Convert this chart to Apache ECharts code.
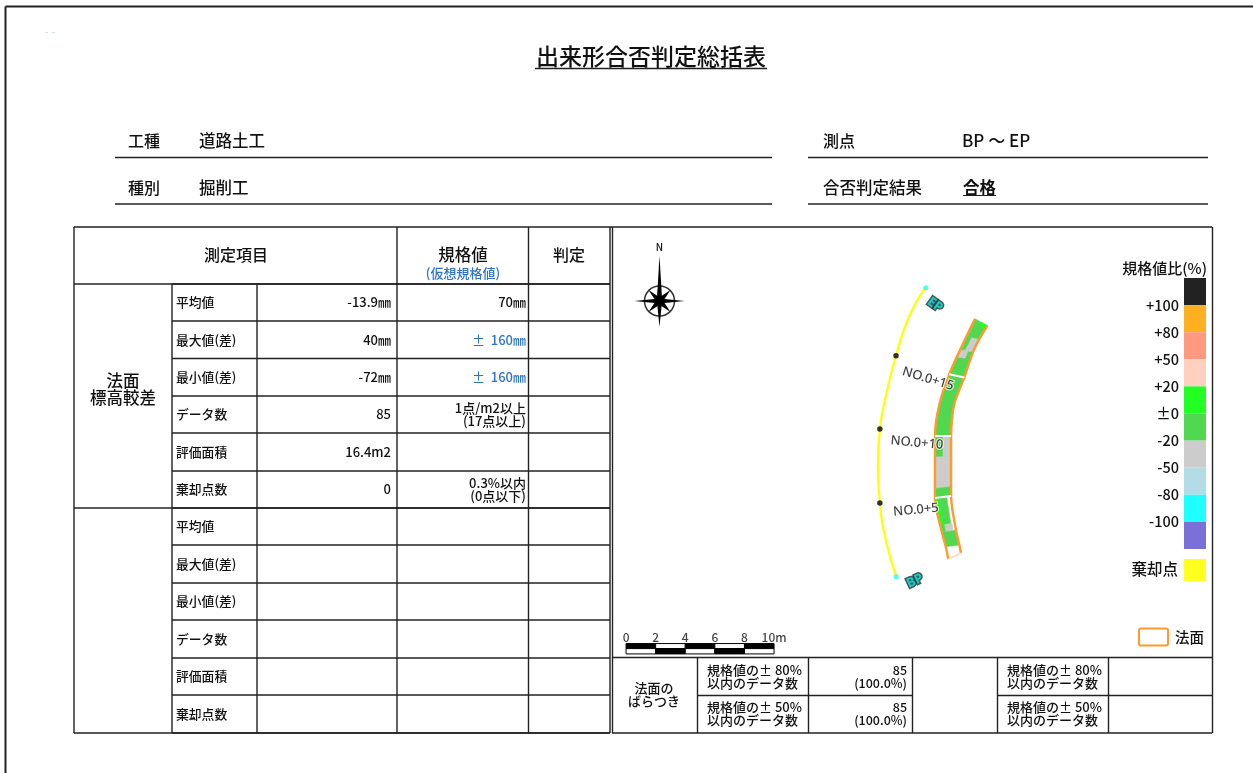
<!DOCTYPE html>
<html>
<head>
<meta charset="utf-8">
<title>出来形合否判定総括表</title>
<script src="https://cdn.jsdelivr.net/npm/echarts@6/dist/echarts.min.js"></script>
<style>
  html, body { margin: 0; padding: 0; background: #fff; }
  #chart { width: 1253px; height: 773px; }
</style>
</head>
<body>
<div id="chart"></div>
<script>
  // 表の中身
  const itemNames = ['平均値', '最大値(差)', '最小値(差)', 'データ数', '評価面積', '棄却点数']
  const measured = ['-13.9㎜', '40㎜', '-72㎜', '85', '16.4m2', '0']
  const specs = ['70㎜', '±  160㎜', '±  160㎜', '1点/m2以上\n(17点以上)', '', '0.3%以内\n(0点以下)']
  const specIsBlue = [false, true, true, false, false, false]
  const spreadNames = ['規格値の± 80%\n以内のデータ数', '規格値の± 50%\n以内のデータ数']
  const spreadValues = ['85\n(100.0%)', '85\n(100.0%)']

  // 凡例
  const bandColors = ['#222222', '#ffb020', '#ff9a80', '#ffd0c0', '#22ff22', '#50d850', '#cccccc', '#b4dce6', '#1fffff', '#7b70d8']
  const bandLabels = ['', '+100', '+80', '+50', '+20', '±0', '-20', '-50', '-80', '-100', '']

  // 平面図 (単位 m, 左下原点)
  const alignment = [[21.2, 24.9], [20.1, 23.0], [19.19, 20.3], [18.45, 17.3], [18.1, 15.35], [17.97, 12.9], [18.1, 10.35], [18.5, 7.85], [19.2, 5.35]]
  const stationDots = [[19.19, 20.3], [18.1, 15.35], [18.1, 10.35]]
  const endDots = [[21.2, 24.9], [19.2, 5.35]]
  const leftEdge = [[22.72, 6.56], [22.55, 7.39], [22.28, 8.4], [21.82, 10.68], [21.82, 14.87], [22.11, 16.97], [22.79, 19.05], [23.58, 20.82], [24.53, 22.79]]
  const rightEdge = [[23.58, 6.96], [23.47, 7.5], [23.24, 8.52], [22.91, 10.82], [22.91, 14.87], [23.11, 16.97], [23.8, 18.82], [24.48, 20.76], [25.36, 22.33]]
  // [断面from, 断面to, 幅from, 幅to, 色番号]
  const stripCells = [
    [1, 2, 0, 1, 5],
    [2, 3, 0, 0.72, 5],
    [2.2, 3, 0, 0.2, 4],
    [2, 2.2, 0.3, 0.8, 6],
    [3, 4, 0, 1, 5],
    [3.16, 3.66, 0, 1, 6],
    [3.66, 4, 0.5, 1, 6],
    [4, 5, 0, 1, 5],
    [5, 6, 0, 1, 5],
    [6, 7, 0, 1, 5],
    [7, 8, 0, 1, 5],
    [6.65, 6.93, 0.08, 0.6, 6],
    [6.9, 7, 0.4, 0.95, 6],
    [7, 7.4, 0.4, 0.95, 6],
    [7.85, 8, 0.5, 1, 4]
  ]
  const crossSections = [3, 4, 6]
  const stationLabels = [
    {name: 'NO.0+15', value: [21.35, 18.73], rotate: -17},
    {name: 'NO.0+10', value: [20.6, 14.4], rotate: -5},
    {name: 'NO.0+5', value: [20.54, 9.87], rotate: 5}
  ]
  const endLabels = [
    {name: 'EP', value: [21.82, 23.73], rotate: -35},
    {name: 'BP', value: [20.47, 5.07], rotate: 25}
  ]
  const scaleStart = 0.95
  const scaleSteps = [0, 2, 4, 6, 8]
  const scaleTicks = ['0', '2', '4', '6', '8', '10m']

  const FONT = '"Noto Sans CJK JP", sans-serif'
  const INK = '#111'
  const BLUE = '#2f74c8'
  const gfx = []

  function line (x1, y1, x2, y2, w) {
    gfx.push({type: 'line', silent: true, shape: {x1, y1, x2, y2}, style: {stroke: '#222', lineWidth: w || 1.4}})
  }
  function text (str, x, y, size, align, color, weight) {
    gfx.push({
      type: 'text',
      silent: true,
      style: {
        text: str,
        x: x,
        y: y,
        font: (weight || '500') + ' ' + size + 'px ' + FONT,
        fill: color || INK,
        align: align || 'left',
        verticalAlign: 'middle',
        lineHeight: Math.round(size * 1.02)
      }
    })
  }

  // 外枠
  line(5.5, 6.5, 1253, 6.5, 2)
  line(5.5, 6.5, 5.5, 773, 2)
  gfx.push({type: 'line', silent: true, shape: {x1: 45, y1: 32.5, x2: 55, y2: 32.5}, style: {stroke: '#cfe3f2', lineWidth: 1, lineDash: [3, 4]}})

  // 見出し
  text('出来形合否判定総括表', 651, 56, 23, 'center')
  line(535, 68.5, 767, 68.5, 1.5)
  text('工種', 128, 141, 16)
  text('道路土工', 199, 141, 16.5)
  line(115, 157.5, 772, 157.5)
  text('種別', 128, 188, 16)
  text('掘削工', 199, 188, 16.5)
  line(115, 204, 772, 204)
  text('測点', 823, 141, 16)
  text('BP ～ EP', 962, 141, 17)
  line(808, 157.5, 1208, 157.5)
  text('合否判定結果', 823, 188, 16.5)
  text('合格', 963, 188, 16.5, 'left', INK, 'bold')
  line(963, 195.5, 996, 195.5, 1.2)
  line(808, 204, 1208, 204)

  // 左の表
  const rowY = [284, 321, 358.5, 396, 433, 471, 508, 545, 583, 620, 658, 695, 733]
  line(74, 227, 1212, 227)
  line(74, 284, 610, 284)
  line(74, 508, 610, 508)
  line(74, 733, 610, 733)
  rowY.forEach(function (y) { line(172, y, 610, y) })
  line(74, 227, 74, 733)
  line(172, 284, 172, 733)
  line(257, 284, 257, 733)
  line(397, 227, 397, 733)
  line(528.5, 227, 528.5, 733)
  line(610, 227, 610, 733)
  line(612.5, 227, 612.5, 733)
  line(1212.5, 227, 1212.5, 733)

  text('測定項目', 236, 255, 16, 'center')
  text('規格値', 463, 255, 16.5, 'center')
  text('(仮想規格値)', 463, 273, 13, 'center', BLUE)
  text('判定', 569, 255, 16, 'center')
  text('法面\n標高較差', 123, 389, 16.5, 'center')

  for (let i = 0; i < 12; i++) {
    const y = (rowY[i] + rowY[i + 1]) / 2
    text(itemNames[i % 6], 176, y, 12.8)
    if (i < 6) {
      text(measured[i], 391, y, 13, 'right')
      if (specs[i]) text(specs[i], 526, y, 13, 'right', specIsBlue[i] ? BLUE : INK)
    }
  }

  // 下のばらつき表
  line(612, 657.5, 1212, 657.5)
  line(697.5, 695.5, 912, 695.5)
  line(997.5, 695.5, 1212, 695.5)
  line(612, 733, 1212, 733)
  ;[697.5, 808.5, 912.5, 997.5, 1108.5].forEach(function (x) { line(x, 657.5, x, 733) })
  text('法面の\nばらつき', 654, 695, 13, 'center')
  spreadNames.forEach(function (s, i) {
    const y = i === 0 ? 677 : 714
    text(s, 707, y, 13, 'left')
    text(spreadValues[i], 907, y, 12.5, 'right')
    text(s, 1007, y, 13, 'left')
  })

  // 方位記号
  const cx = 659.5
  const cy = 301
  gfx.push({type: 'circle', silent: true, shape: {cx, cy, r: 15}, style: {fill: 'none', stroke: '#333', lineWidth: 1.5}})
  gfx.push({type: 'circle', silent: true, shape: {cx, cy, r: 4.5}, style: {fill: '#000'}})
  function spike (dx, dy, w) {
    gfx.push({
      type: 'polygon',
      silent: true,
      shape: {points: [[cx + dx, cy + dy], [cx - dy * w, cy + dx * w], [cx + dy * w, cy - dx * w]]},
      style: {fill: '#000'}
    })
  }
  spike(0, -45, 0.06)
  spike(0, 26, 0.1)
  spike(-25, 0, 0.1)
  spike(25, 0, 0.1)
  spike(-11, -11, 0.2)
  spike(11, -11, 0.2)
  spike(-11, 11, 0.2)
  spike(11, 11, 0.2)
  text('N', cx, 247, 10, 'center')

  // 凡例の文字と見本
  text('規格値比(%)', 1207, 268, 15, 'right')
  text('棄却点', 1178, 569, 15.5, 'right')
  gfx.push({type: 'rect', silent: true, shape: {x: 1184, y: 559, width: 22, height: 22}, style: {fill: '#ffff20'}})
  gfx.push({type: 'rect', silent: true, shape: {x: 1139, y: 628.5, width: 29, height: 17, r: 2}, style: {fill: '#fff', stroke: '#ff9a2e', lineWidth: 2}})
  text('法面', 1175, 637, 14.5)

  function cellCorner (api, s, t) {
    const a = Math.min(Math.floor(s), leftEdge.length - 2)
    const f = s - a
    const lx = leftEdge[a][0] + (leftEdge[a + 1][0] - leftEdge[a][0]) * f
    const ly = leftEdge[a][1] + (leftEdge[a + 1][1] - leftEdge[a][1]) * f
    const rx = rightEdge[a][0] + (rightEdge[a + 1][0] - rightEdge[a][0]) * f
    const ry = rightEdge[a][1] + (rightEdge[a + 1][1] - rightEdge[a][1]) * f
    return api.coord([lx + (rx - lx) * t, ly + (ry - ly) * t])
  }

  const series = [
    {
      type: 'custom',
      silent: true,
      coordinateSystem: 'cartesian2d',
      xAxisIndex: 0,
      yAxisIndex: 0,
      data: stripCells,
      renderItem: function (params, api) {
        const s0 = api.value(0)
        const s1 = api.value(1)
        const t0 = api.value(2)
        const t1 = api.value(3)
        return {
          type: 'polygon',
          shape: {points: [cellCorner(api, s0, t0), cellCorner(api, s0, t1), cellCorner(api, s1, t1), cellCorner(api, s1, t0)]},
          style: {fill: bandColors[api.value(4)], stroke: bandColors[api.value(4)], lineWidth: 0.5}
        }
      }
    },
    {type: 'line', silent: true, xAxisIndex: 0, yAxisIndex: 0, data: leftEdge, smooth: 0.3, showSymbol: false, lineStyle: {color: '#ff9a2e', width: 2.4}, z: 3},
    {type: 'line', silent: true, xAxisIndex: 0, yAxisIndex: 0, data: rightEdge, smooth: 0.3, showSymbol: false, lineStyle: {color: '#ff9a2e', width: 2.4}, z: 3},
    {type: 'line', silent: true, xAxisIndex: 0, yAxisIndex: 0, data: [leftEdge[0], rightEdge[0]], showSymbol: false, lineStyle: {color: '#ffd9b0', width: 1.5}, z: 3}
  ]
  crossSections.forEach(function (i) {
    series.push({type: 'line', silent: true, xAxisIndex: 0, yAxisIndex: 0, data: [leftEdge[i], rightEdge[i]], showSymbol: false, lineStyle: {color: '#fff', width: 2}, z: 4})
  })
  series.push(
    {type: 'line', silent: true, xAxisIndex: 0, yAxisIndex: 0, data: alignment, smooth: true, showSymbol: false, lineStyle: {color: '#ffff00', width: 2.2}, z: 5},
    {type: 'scatter', silent: true, xAxisIndex: 0, yAxisIndex: 0, data: stationDots, symbolSize: 5.5, itemStyle: {color: '#000'}, z: 6},
    {type: 'scatter', silent: true, xAxisIndex: 0, yAxisIndex: 0, data: endDots, symbolSize: 5, itemStyle: {color: '#1fffff'}, z: 6},
    {
      type: 'scatter',
      silent: true,
      xAxisIndex: 0,
      yAxisIndex: 0,
      symbolSize: 0,
      z: 7,
      data: stationLabels.map(function (d) {
        return {name: d.name, value: d.value, label: {rotate: d.rotate}}
      }),
      label: {show: true, position: 'inside', formatter: '{b}', fontFamily: '"Noto Sans", sans-serif', fontWeight: 500, fontSize: 13, color: '#111', textBorderColor: '#fff', textBorderWidth: 2}
    },
    {
      type: 'scatter',
      silent: true,
      xAxisIndex: 0,
      yAxisIndex: 0,
      symbolSize: 0,
      z: 7,
      data: endLabels.map(function (d) {
        return {name: d.name, value: d.value, label: {rotate: d.rotate}}
      }),
      label: {show: true, position: 'inside', formatter: '{b}', fontFamily: '"Noto Sans", sans-serif', fontWeight: 'bold', fontSize: 13, color: '#12e8e8', textBorderColor: '#10302f', textBorderWidth: 3}
    },
    {
      // 縮尺バー
      type: 'custom',
      silent: true,
      xAxisIndex: 0,
      yAxisIndex: 0,
      data: scaleSteps,
      z: 6,
      renderItem: function (params, api) {
        const x0 = scaleStart + api.value(0)
        const p1 = api.coord([x0, 0.84])
        const p2 = api.coord([x0 + 2, 0.5])
        const p3 = api.coord([x0 + 2, 0.14])
        const topBlack = params.dataIndex % 2 === 0
        return {
          type: 'group',
          children: [
            {type: 'rect', shape: {x: p1[0], y: p1[1], width: p2[0] - p1[0], height: p2[1] - p1[1]}, style: {fill: topBlack ? '#000' : '#fff', stroke: '#000', lineWidth: 1}},
            {type: 'rect', shape: {x: p1[0], y: p2[1], width: p2[0] - p1[0], height: p3[1] - p2[1]}, style: {fill: topBlack ? '#fff' : '#000', stroke: '#000', lineWidth: 1}}
          ]
        }
      }
    },
    {
      type: 'scatter',
      silent: true,
      xAxisIndex: 0,
      yAxisIndex: 0,
      symbolSize: 0,
      z: 6,
      data: scaleTicks.map(function (t, i) {
        return {name: t, value: [scaleStart + i * 2, 1.25]}
      }),
      label: {show: true, position: 'inside', formatter: '{b}', fontFamily: FONT, fontWeight: 500, fontSize: 12, color: '#111'}
    }
  )
  // 凡例の色帯
  bandColors.forEach(function (c) {
    series.push({type: 'bar', silent: true, xAxisIndex: 1, yAxisIndex: 1, stack: 'band', barWidth: '100%', data: [1], itemStyle: {color: c}})
  })

  const option = {
    animation: false,
    backgroundColor: '#fff',
    grid: [
      {left: 612, top: 227, width: 592, height: 429},
      {left: 1184, top: 278, width: 22, height: 271}
    ],
    xAxis: [
      {type: 'value', min: 0, max: 40, show: false},
      {type: 'category', gridIndex: 1, data: ['band'], show: false}
    ],
    yAxis: [
      {type: 'value', min: 0, max: 29, show: false},
      {
        type: 'value',
        gridIndex: 1,
        min: 0,
        max: 10,
        interval: 1,
        inverse: true,
        axisLine: {show: false},
        axisTick: {show: false},
        splitLine: {show: false},
        axisLabel: {
          margin: 5,
          fontFamily: FONT,
          fontWeight: 500,
          fontSize: 14.5,
          color: INK,
          formatter: function (v) { return bandLabels[v] }
        }
      }
    ],
    graphic: {elements: gfx},
    series: series
  }

  const myChart = echarts.init(document.getElementById('chart'), null, {renderer: 'canvas'})
  myChart.setOption(option)
</script>
</body>
</html>
